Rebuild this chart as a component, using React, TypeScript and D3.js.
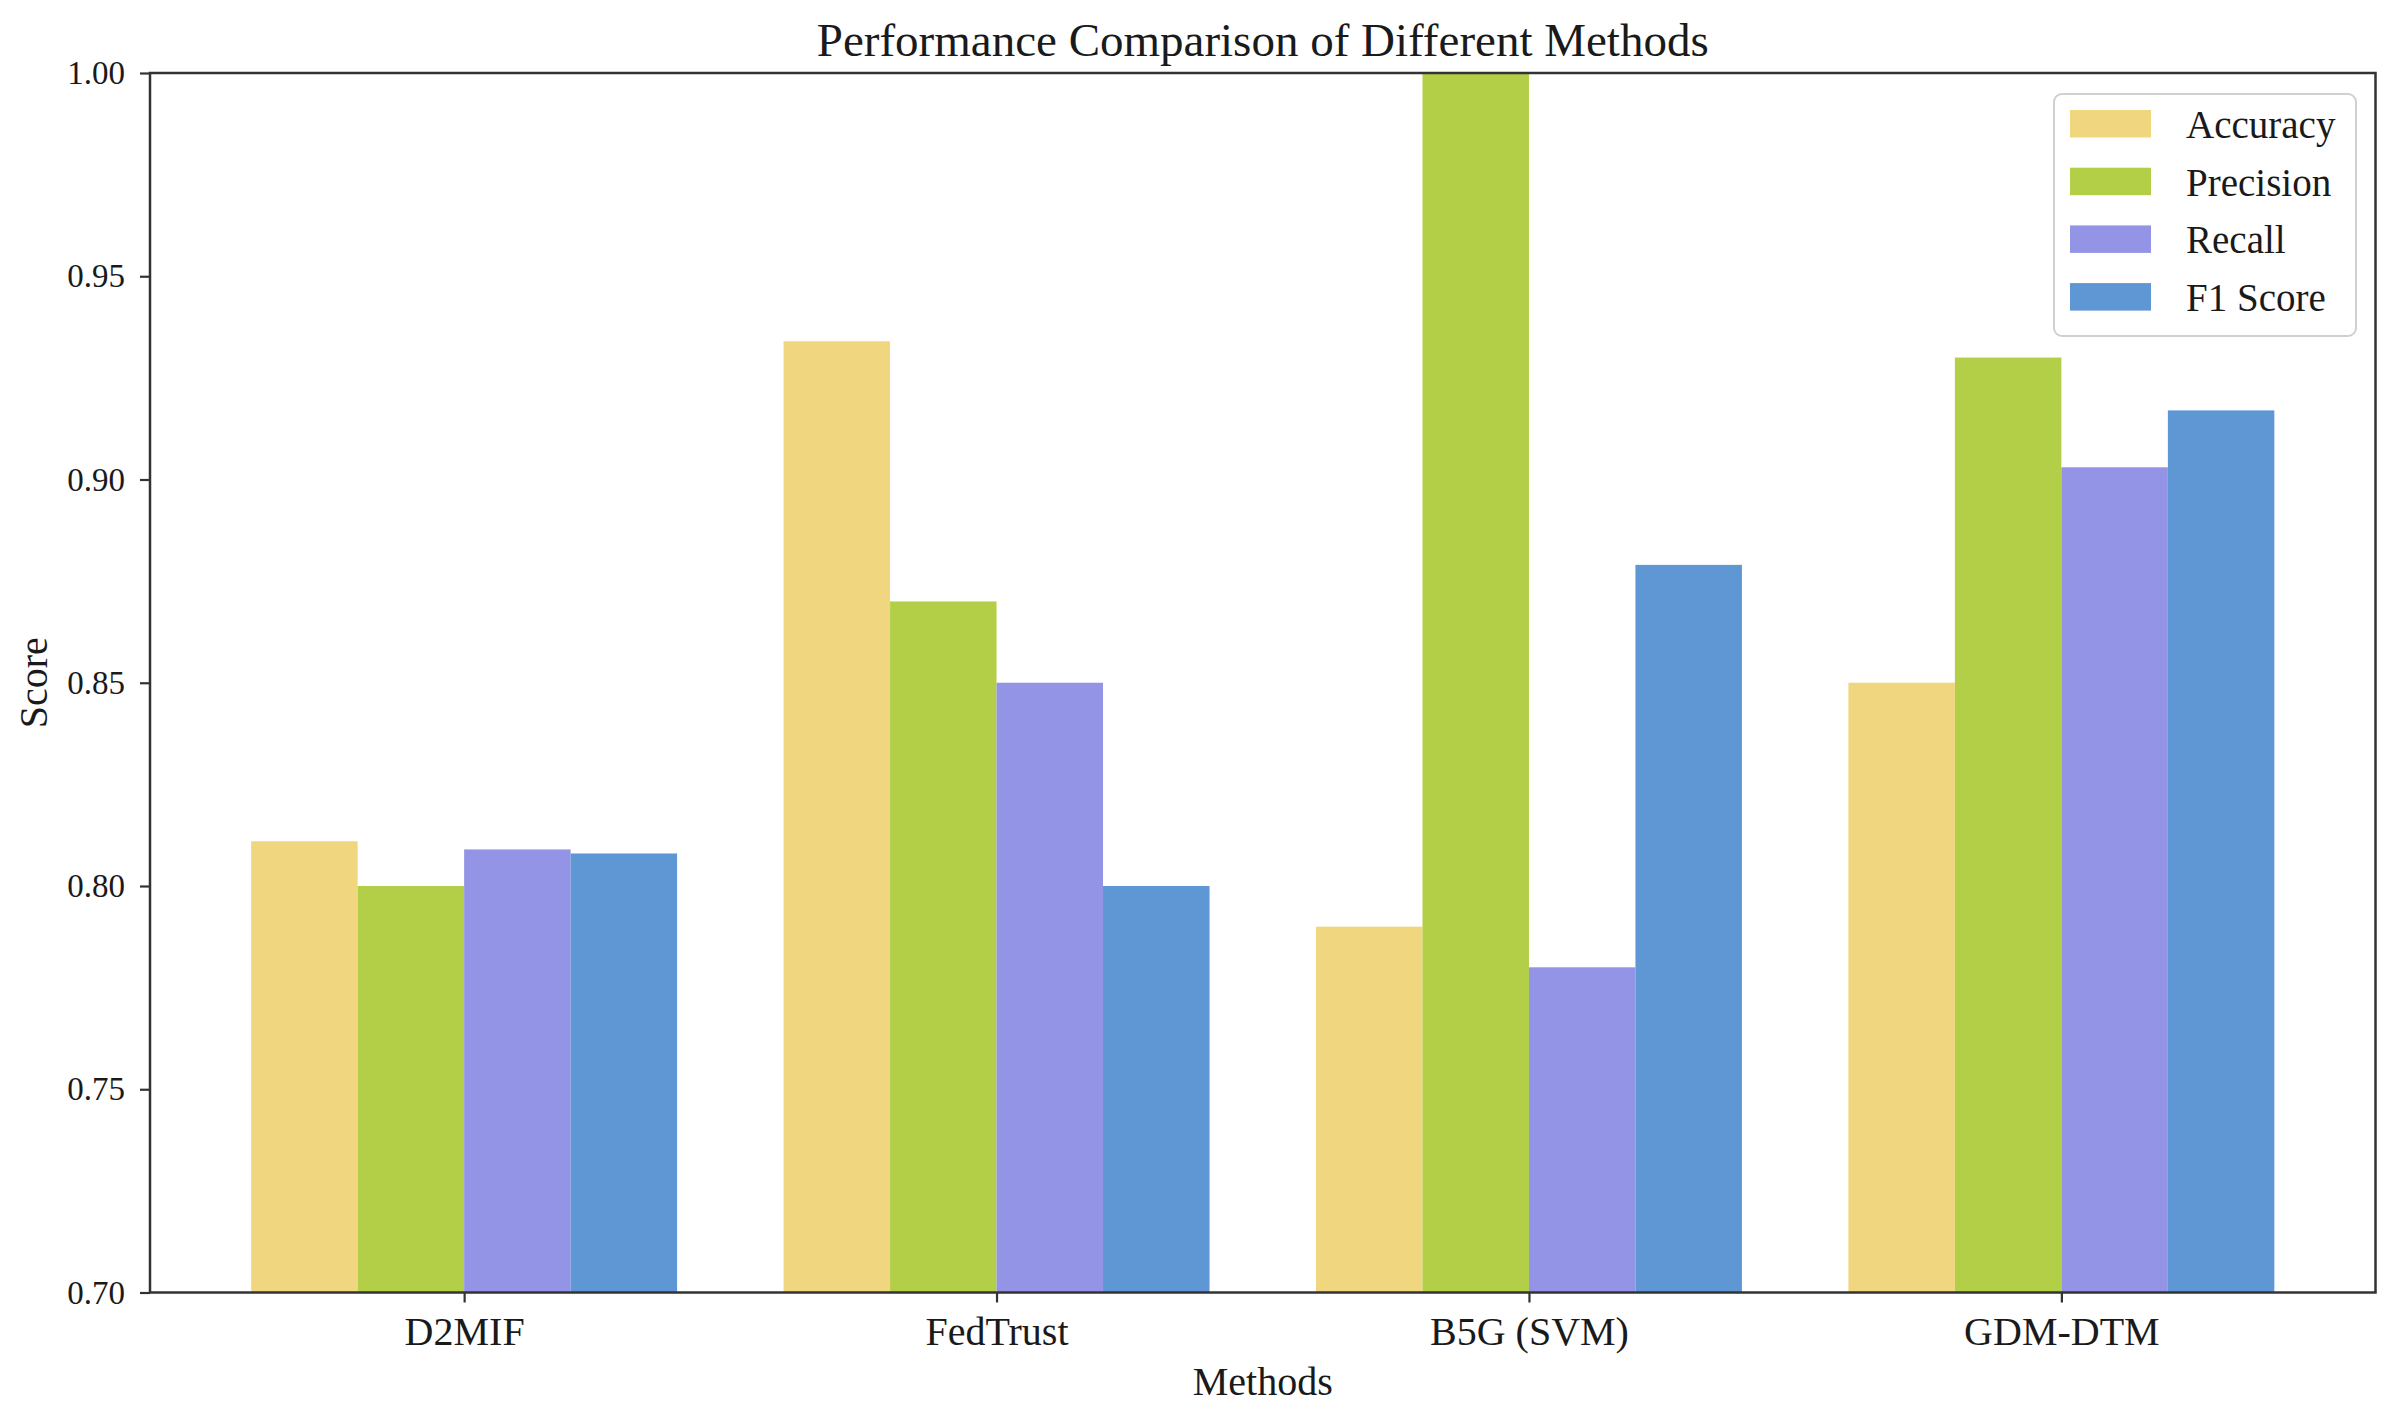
import { useEffect, useRef } from 'react';
import * as d3 from 'd3';

const methods = ['D2MIF', 'FedTrust', 'B5G (SVM)', 'GDM-DTM'];
const metrics = ['Accuracy', 'Precision', 'Recall', 'F1 Score'];
const accuracy = [0.811, 0.934, 0.79, 0.85];
const precision = [0.8, 0.87, 1.0, 0.93];
const recall = [0.809, 0.85, 0.78, 0.903];
const f1Score = [0.808, 0.8, 0.879, 0.917];
const yTicks = [0.7, 0.75, 0.8, 0.85, 0.9, 0.95, 1.0];
const colors = ['#F0D77F', '#B3CF47', '#9494E6', '#5F96D4'];

const FONT = '"Liberation Serif", "Times New Roman", Times, serif';

const Chart = () => {
  const svgRef = useRef<SVGSVGElement>(null);
  const width = 2398;
  const height = 1419;

  useEffect(() => {
    if (!svgRef.current) return;
    d3.select(svgRef.current).selectAll('*').remove();

    const left = 150;
    const right = 2375.5;
    const top = 73;
    const bottom = 1292.5;

    const svg = d3.select(svgRef.current)
      .attr('width', width)
      .attr('height', height);

    svg.append('rect')
      .attr('width', width)
      .attr('height', height)
      .attr('fill', '#fff');

    const barWidth = 0.2;
    const x = d3.scaleLinear().domain([-0.59, 3.59]).range([left, right]);
    const y = d3.scaleLinear().domain([0.7, 1.0]).range([bottom, top]);

    const series = [accuracy, precision, recall, f1Score];

    svg.append('clipPath')
      .attr('id', 'plot-clip')
      .append('rect')
      .attr('x', left)
      .attr('y', top)
      .attr('width', right - left)
      .attr('height', bottom - top);

    const bars = svg.append('g').attr('clip-path', 'url(#plot-clip)');

    series.forEach((values, j) => {
      bars.selectAll(`.bar-${j}`)
        .data(values)
        .join('rect')
        .attr('class', `bar-${j}`)
        .attr('x', (_, i) => x(i + (j - 2) * barWidth))
        .attr('y', d => y(d))
        .attr('width', x(barWidth) - x(0))
        .attr('height', d => bottom - y(d))
        .attr('fill', colors[j]);
    });

    // Y axis
    const yAxis = svg.append('g')
      .attr('transform', `translate(${left},0)`)
      .call(d3.axisLeft(y).tickValues(yTicks).tickFormat(d3.format('.2f')).tickSize(10).tickPadding(15));
    yAxis.select('.domain').remove();
    yAxis.selectAll('line').attr('stroke', '#333').attr('stroke-width', 2.2);
    yAxis.selectAll('text')
      .attr('font-size', '33px')
      .attr('font-family', FONT)
      .attr('fill', '#1a1a1a');

    // X axis
    const xAxis = svg.append('g')
      .attr('transform', `translate(0,${bottom})`)
      .call(d3.axisBottom(x).tickValues([0, 1, 2, 3]).tickFormat(i => methods[i as number]).tickSize(10).tickPadding(14));
    xAxis.select('.domain').remove();
    xAxis.selectAll('line').attr('stroke', '#333').attr('stroke-width', 2.2);
    xAxis.selectAll('text')
      .attr('font-size', '40px')
      .attr('font-family', FONT)
      .attr('fill', '#1a1a1a');

    // Frame
    svg.append('rect')
      .attr('x', left)
      .attr('y', top)
      .attr('width', right - left)
      .attr('height', bottom - top)
      .attr('fill', 'none')
      .attr('stroke', '#333')
      .attr('stroke-width', 2.5);

    // Title
    svg.append('text')
      .attr('x', (left + right) / 2)
      .attr('y', 56)
      .attr('text-anchor', 'middle')
      .attr('font-size', '47px')
      .attr('font-family', FONT)
      .attr('fill', '#1a1a1a')
      .text('Performance Comparison of Different Methods');

    // Axis labels
    svg.append('text')
      .attr('x', (left + right) / 2)
      .attr('y', 1395)
      .attr('text-anchor', 'middle')
      .attr('font-size', '40px')
      .attr('font-family', FONT)
      .attr('fill', '#1a1a1a')
      .text('Methods');

    svg.append('text')
      .attr('transform', `translate(47,${(top + bottom) / 2}) rotate(-90)`)
      .attr('text-anchor', 'middle')
      .attr('font-size', '40px')
      .attr('font-family', FONT)
      .attr('fill', '#1a1a1a')
      .text('Score');

    // Legend
    const legend = svg.append('g');
    legend.append('rect')
      .attr('x', 2054)
      .attr('y', 94)
      .attr('width', 302)
      .attr('height', 242)
      .attr('rx', 8)
      .attr('fill', '#fff')
      .attr('fill-opacity', 0.85)
      .attr('stroke', '#d0d0d0')
      .attr('stroke-width', 2);

    metrics.forEach((name, j) => {
      const rowTop = 110 + j * 57.7;
      legend.append('rect')
        .attr('x', 2070)
        .attr('y', rowTop)
        .attr('width', 81)
        .attr('height', 27.5)
        .attr('fill', colors[j]);
      legend.append('text')
        .attr('x', 2186)
        .attr('y', rowTop + 28)
        .attr('font-size', '39px')
        .attr('font-family', FONT)
        .attr('fill', '#1a1a1a')
        .text(name);
    });
  }, []);

  return <svg ref={svgRef} style={{ position: 'absolute', left: 0, top: 0, display: 'block' }} />;
};

export default function App() {
  return <Chart />;
}
